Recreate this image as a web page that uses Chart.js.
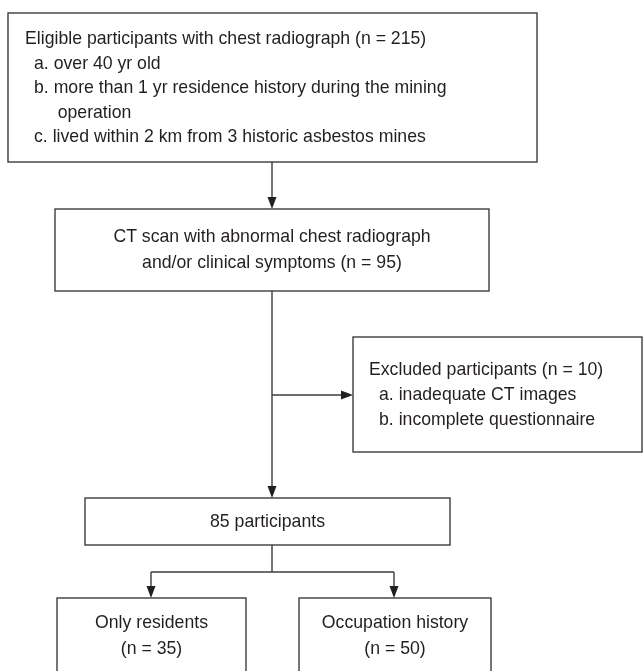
<!DOCTYPE html>
<html>
<head>
<meta charset="utf-8">
<script src="https://cdn.jsdelivr.net/npm/chart.js@4/dist/chart.umd.min.js"></script>
<style>
  html, body { margin: 0; padding: 0; background: #fff; }
  #wrap { width: 644px; height: 671px; position: relative; }
</style>
</head>
<body>
<div id="wrap"><canvas id="flow"></canvas></div>
<script>
/* ---------- flow data ---------- */
const stageNames = [
  'Eligible participants with chest radiograph',
  'CT scan with abnormal chest radiograph',
  'Excluded participants',
  'participants',
  'Only residents',
  'Occupation history'
];
const stageCounts = [215, 95, 10, 85, 35, 50];
const eligibleCriteria = [
  'over 40 yr old',
  'more than 1 yr residence history during the mining operation',
  'lived within 2 km from 3 historic asbestos mines'
];
const exclusionReasons = ['inadequate CT images', 'incomplete questionnaire'];

/* ---------- layout, in chart units (x 0-644, y 0-671 downwards) ---------- */
const layout = {
  boxes: [
    [8, 13, 537, 162],
    [55, 209, 489, 291],
    [353, 337, 642, 452],
    [85, 498, 450, 545],
    [57, 598, 246, 700],
    [299, 598, 491, 700]
  ],
  spine: 272,
  excludeY: 395,
  splitY: 572,
  branchX: [151, 394],
  wrapRight: 490,
  lineGap: 24.5
};

// condensed sans look: Arial-metric font squeezed a little
const FONT = '19px "Liberation Sans", Arial, sans-serif';
const SQUEEZE = 0.93;
const INK = '#231f20';
const EDGE = '#3c3c3c';

function textW(ctx, s) { return ctx.measureText(s).width * SQUEEZE; }

function putText(ctx, s, X, Y, align) {
  ctx.save();
  ctx.translate(X, Y);
  ctx.scale(SQUEEZE, 1);
  ctx.textAlign = align;
  ctx.fillText(s, 0, 0);
  ctx.restore();
}

function wrapWords(ctx, text, maxW) {
  const words = text.split(' ');
  const lines = [];
  let cur = '';
  words.forEach(w => {
    const t = cur ? cur + ' ' + w : w;
    if (textW(ctx, t) > maxW && cur) { lines.push(cur); cur = w; }
    else cur = t;
  });
  if (cur) lines.push(cur);
  return lines;
}

const flowPlugin = {
  id: 'flow',
  afterDatasetsDraw(chart) {
    const { ctx, scales: { x, y } } = chart;
    const px = v => x.getPixelForValue(v);
    const py = v => y.getPixelForValue(v);

    ctx.save();
    ctx.strokeStyle = EDGE;
    ctx.fillStyle = INK;
    ctx.lineWidth = 1.4;

    // boxes
    layout.boxes.forEach(b => {
      ctx.strokeRect(px(b[0]), py(b[1]), px(b[2]) - px(b[0]), py(b[3]) - py(b[1]));
    });

    const seg = (x0, y0, x1, y1) => {
      ctx.beginPath();
      ctx.moveTo(px(x0), py(y0));
      ctx.lineTo(px(x1), py(y1));
      ctx.stroke();
    };
    const head = (xv, yv, dir) => {
      const X = px(xv), Y = py(yv), L = 12, W = 4.5;
      ctx.beginPath();
      if (dir === 'down') { ctx.moveTo(X, Y); ctx.lineTo(X - W, Y - L); ctx.lineTo(X + W, Y - L); }
      else { ctx.moveTo(X, Y); ctx.lineTo(X - L, Y - W); ctx.lineTo(X - L, Y + W); }
      ctx.closePath();
      ctx.fill();
    };
    const S = layout.spine, B = layout.boxes;

    // connectors
    seg(S, B[0][3], S, B[1][1] - 4); head(S, B[1][1], 'down');
    seg(S, B[1][3], S, B[3][1] - 4); head(S, B[3][1], 'down');
    seg(S, layout.excludeY, B[2][0] - 4, layout.excludeY); head(B[2][0], layout.excludeY, 'right');
    seg(S, B[3][3], S, layout.splitY);
    seg(layout.branchX[0], layout.splitY, layout.branchX[1], layout.splitY);
    layout.branchX.forEach((bx, i) => {
      seg(bx, layout.splitY, bx, B[4 + i][1] - 4);
      head(bx, B[4 + i][1], 'down');
    });

    // texts
    ctx.font = FONT;
    ctx.textBaseline = 'middle';
    const g = layout.lineGap;

    // eligible box
    let ty = 39;
    putText(ctx, `${stageNames[0]} (n = ${stageCounts[0]})`, px(25), py(ty), 'left');
    eligibleCriteria.forEach((c, i) => {
      const tag = String.fromCharCode(97 + i) + '. ';
      const tagW = textW(ctx, tag);
      const lines = wrapWords(ctx, c, px(layout.wrapRight) - px(34) - tagW);
      lines.forEach((ln, j) => {
        ty += g;
        putText(ctx, j === 0 ? tag + ln : ln, px(34) + (j === 0 ? 0 : tagW + 4), py(ty), 'left');
      });
    });

    // CT box
    const cx = (B[1][0] + B[1][2]) / 2;
    putText(ctx, stageNames[1], px(cx), py(237), 'center');
    putText(ctx, `and/or clinical symptoms (n = ${stageCounts[1]})`, px(cx), py(263), 'center');

    // excluded box
    putText(ctx, `${stageNames[2]} (n = ${stageCounts[2]})`, px(369), py(370), 'left');
    exclusionReasons.forEach((r, i) => {
      putText(ctx, String.fromCharCode(97 + i) + '. ' + r, px(379), py(395 + i * g), 'left');
    });

    // 85 participants
    putText(ctx, `${stageCounts[3]} ${stageNames[3]}`, px((B[3][0] + B[3][2]) / 2), py(522), 'center');

    // bottom groups
    [4, 5].forEach(k => {
      const mx = (B[k][0] + B[k][2]) / 2;
      putText(ctx, stageNames[k], px(mx), py(623), 'center');
      putText(ctx, `(n = ${stageCounts[k]})`, px(mx), py(649), 'center');
    });

    ctx.restore();
  }
};

new Chart(document.getElementById('flow'), {
  type: 'scatter',
  data: {
    datasets: [{
      data: layout.boxes.map((b, i) => ({ x: (b[0] + b[2]) / 2, y: (b[1] + b[3]) / 2, n: stageCounts[i] })),
      pointRadius: 0
    }]
  },
  options: {
    responsive: true,
    maintainAspectRatio: false,
    animation: false,
    events: [],
    layout: { padding: 0 },
    plugins: { legend: { display: false }, tooltip: { enabled: false } },
    scales: {
      x: { type: 'linear', min: 0, max: 644, display: false },
      y: { type: 'linear', min: 0, max: 671, reverse: true, display: false }
    }
  },
  plugins: [flowPlugin]
});
</script>
</body>
</html>
